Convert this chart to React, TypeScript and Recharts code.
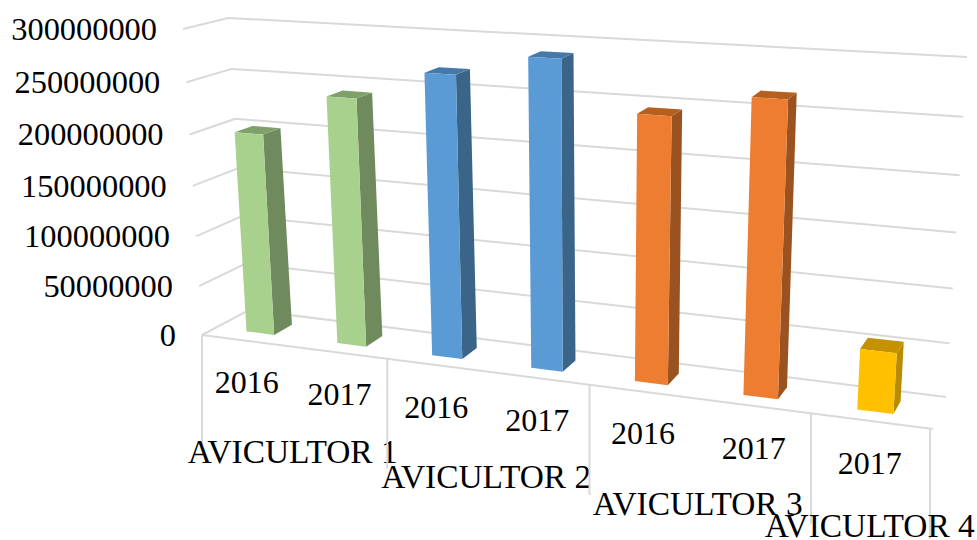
import React from "react";
import { BarChart, Bar, XAxis, YAxis, CartesianGrid } from "recharts";

const years = ["2016", "2017", "2016", "2017", "2016", "2017", "2017"];
const groupIndex = [0, 0, 1, 1, 2, 2, 3];
const groupNames = ["AVICULTOR 1", "AVICULTOR 2", "AVICULTOR 3", "AVICULTOR 4"];
const values = [200000000, 241000000, 269000000, 289000000, 245000000, 266000000, 55000000];
const yTicks = [0, 50000000, 100000000, 150000000, 200000000, 250000000, 300000000];

const frontColors = ["#A9D18E", "#5B9BD5", "#ED7D31", "#FFC000"];
const sideColors = ["#6F8A5D", "#3A6488", "#9A5220", "#B98B00"];
const topColors = ["#7FA06B", "#4679A8", "#B5601F", "#C49200"];

const W = 977;
const H = 540;
const PW = W - 1;
const PH = H - 1;
const N = years.length;
const MAX = 300000000;
const D1 = 0.3;
const D2 = 0.7;
const FONT = "'Liberation Serif', 'Times New Roman', serif";

type P = [number, number];
function homography(p0: P, p1: P, p2: P, p3: P) {
  const dx1 = p1[0] - p2[0], dx2 = p3[0] - p2[0], sx = p0[0] - p1[0] + p2[0] - p3[0];
  const dy1 = p1[1] - p2[1], dy2 = p3[1] - p2[1], sy = p0[1] - p1[1] + p2[1] - p3[1];
  const det = dx1 * dy2 - dx2 * dy1;
  const g = (sx * dy2 - dx2 * sy) / det;
  const h = (dx1 * sy - sx * dy1) / det;
  const a = p1[0] - p0[0] + g * p1[0], b = p3[0] - p0[0] + h * p3[0];
  const d = p1[1] - p0[1] + g * p1[1], e = p3[1] - p0[1] + h * p3[1];
  return (u: number, v: number): P => {
    const w = g * u + h * v + 1;
    return [(a * u + b * v + p0[0]) / w, (d * u + e * v + p0[1]) / w];
  };
}
const frontWall = homography([202, 335], [930, 429], [952, 73], [183, 29]);
const backWall = homography([249, 310], [946, 397], [967, 57], [228, 18]);
const project = (u: number, v: number, d: number): P => {
  const f = frontWall(u, v), b = backWall(u, v);
  return [f[0] + (b[0] - f[0]) * d, f[1] + (b[1] - f[1]) * d];
};
const pts = (list: P[]) => list.map((p) => `${p[0].toFixed(2)},${p[1].toFixed(2)}`).join(" ");
const toU = (x: number) => (x - 1) / PW;
const toV = (y: number) => 1 - y / PH;

const GRID = "#D9D9D9";

const GridLine = (props: any) => {
  const v = toV(props.y1);
  const end = project(1, 0, 0);
  return (
    <g>
      <polyline
        points={pts([project(0, v, 0), project(0, v, 1), project(1, v, 1)])}
        fill="none"
        stroke={GRID}
        strokeWidth={2}
      />
      {Math.abs(v) < 0.001 ? (
        <polyline points={pts([project(0, 0, 0), [end[0] + 3, end[1]]])} fill="none" stroke={GRID} strokeWidth={2} />
      ) : null}
    </g>
  );
};

const Bar3D = (props: any) => {
  const { x, y, width, height, index } = props;
  const u1 = toU(x), u2 = toU(x + width);
  const v0 = toV(y + height), v1 = toV(y);
  const g = groupIndex[index];
  return (
    <g>
      <polygon
        points={pts([project(u2, v0, D1), project(u2, v0, D2), project(u2, v1, D2), project(u2, v1, D1)])}
        fill={sideColors[g]}
      />
      <polygon
        points={pts([project(u1, v1, D1), project(u2, v1, D1), project(u2, v1, D2), project(u1, v1, D2)])}
        fill={topColors[g]}
      />
      <polygon
        points={pts([project(u1, v0, D1), project(u2, v0, D1), project(u2, v1, D1), project(u1, v1, D1)])}
        fill={frontColors[g]}
      />
    </g>
  );
};

const YTick = (props: any) => {
  const { y, payload } = props;
  const p = project(0, toV(y), 0);
  return (
    <text x={p[0] - 26} y={p[1]} dy="0.33em" textAnchor="end" fontFamily={FONT} fontSize={32.4} fill="#000">
      {payload.value}
    </text>
  );
};

const XTick = (props: any) => {
  const { x, index } = props;
  const band = 1 / N;
  const p = project(toU(x), 0, 0);
  const g = groupIndex[index];
  const first = groupIndex.indexOf(g);
  const last = groupIndex.lastIndexOf(g);
  const boundary = (b: number) => {
    const q = project(b, 0, 0);
    return <line x1={q[0]} y1={q[1]} x2={q[0]} y2={q[1] + 110} stroke={GRID} strokeWidth={2} />;
  };
  let groupLabel = null;
  if (index === first) {
    const c = project(((first + last + 1) / 2) * band, 0, 0);
    groupLabel = (
      <text x={c[0]} y={c[1] + 105} dy="0.33em" textAnchor="middle" fontFamily={FONT} fontSize={33.4} fill="#000">
        {groupNames[g]}
      </text>
    );
  }
  return (
    <g>
      {index === first ? boundary(first * band) : null}
      {index === N - 1 ? boundary(1) : null}
      <text x={p[0]} y={p[1] + 42} dy="0.33em" textAnchor="middle" fontFamily={FONT} fontSize={32} fill="#000">
        {years[index]}
      </text>
      {groupLabel}
    </g>
  );
};

const data = years.map((year, i) => ({ key: i, year, value: values[i] }));

export default function App() {
  return (
    <div style={{ position: "absolute", left: 0, top: 0, width: W, height: H, background: "#fff" }}>
      <BarChart width={W} height={H} data={data} margin={{ top: 0, right: 0, bottom: 0, left: 0 }} barCategoryGap="34.5%">
        <CartesianGrid horizontal={(p: any) => <GridLine key={p.index ?? p.y1} {...p} />} vertical={false} />
        <XAxis dataKey="key" height={1} axisLine={false} tickLine={false} interval={0} tick={(p: any) => <XTick {...p} />} />
        <YAxis width={1} domain={[0, MAX]} ticks={yTicks} interval={0} axisLine={false} tickLine={false} tick={(p: any) => <YTick {...p} />} />
        <Bar dataKey="value" isAnimationActive={false} shape={Bar3D} />
      </BarChart>
    </div>
  );
}
